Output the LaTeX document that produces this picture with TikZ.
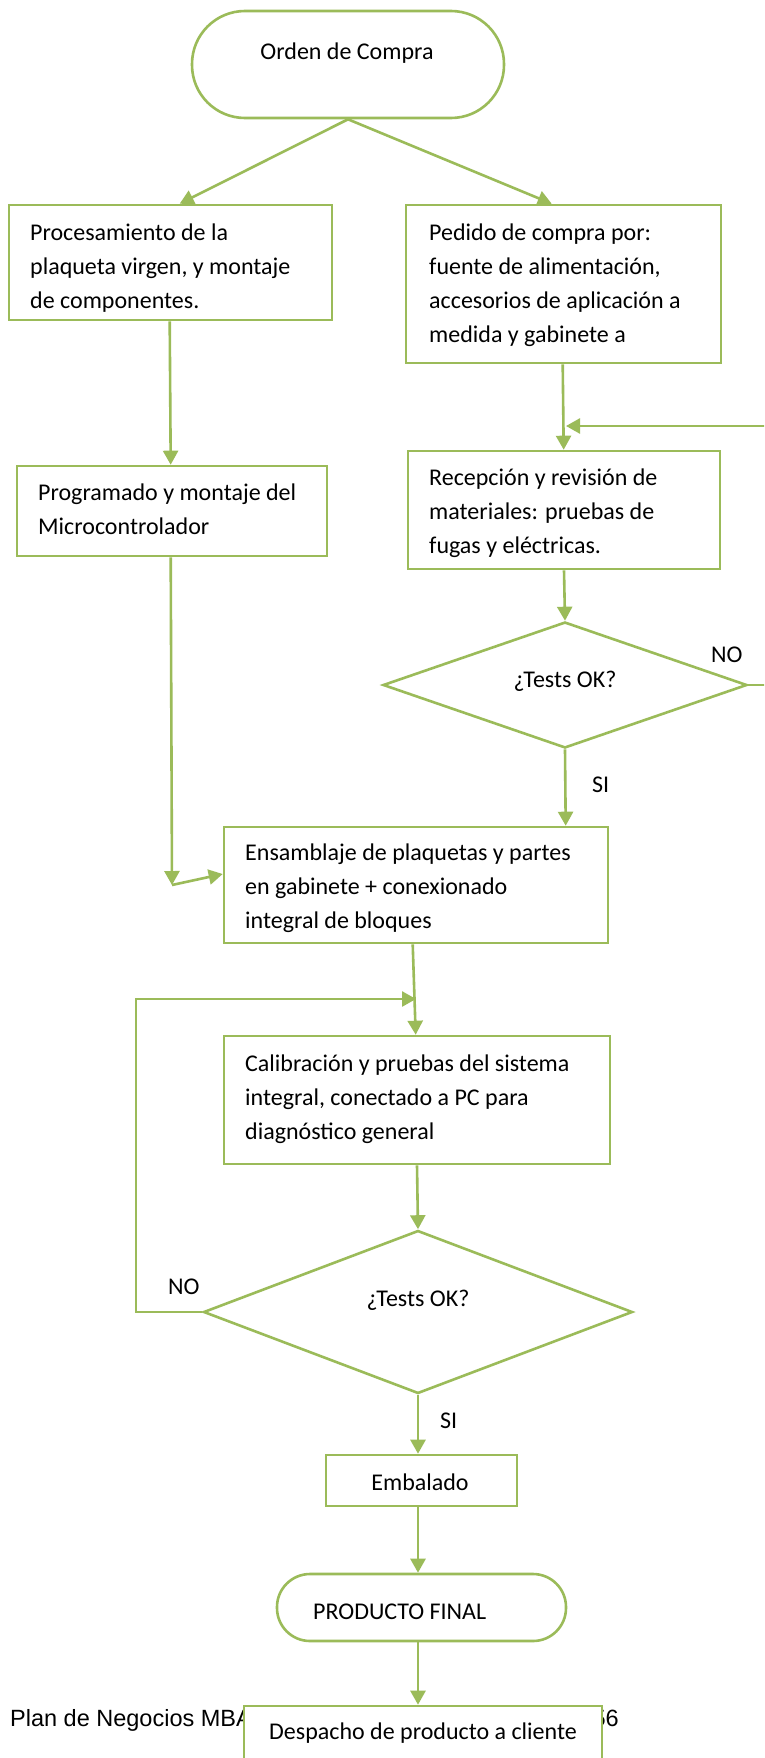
\documentclass[tikz,border=0pt]{standalone}
\usepackage{fontspec}
\setmainfont{Carlito}
\newfontfamily\footfont{Liberation Sans}
\usetikzlibrary{arrows.meta,shapes.geometric,calc}
\definecolor{lgreen}{RGB}{155,187,89}
\begin{document}
\begin{tikzpicture}[x=1pt,y=-1pt,
  box/.style={draw=lgreen, line width=2.6pt, fill=white, rectangle, inner sep=0pt},
  term/.style={box, rounded corners=#1},
  dia/.style={draw=lgreen, line width=2.6pt, fill=white, diamond, inner sep=0pt},
  conn/.style={draw=lgreen, line width=2.6pt, -{Triangle[length=14pt,width=15pt]}},
  txt/.style={inner sep=0pt, align=left, anchor=north west, font=\fontsize{24}{34}\selectfont},
  lbl/.style={inner sep=0pt, anchor=base, font=\fontsize{24}{34}\selectfont},
  foot/.style={inner sep=0pt, font=\footfont\fontsize{23.5}{28}\selectfont}
]
\clip (0,0) rectangle (764,1758);
\fill[white] (0,0) rectangle (764,1758);

% nodes
\node[term=53pt, minimum width=312pt, minimum height=107pt] (t1) at (348,64.5) {};
\node[box, minimum width=323pt, minimum height=115pt] (b1) at (170.5,262.5) {};
\node[box, minimum width=315pt, minimum height=158pt] (b2) at (563.5,284) {};
\node[box, minimum width=310pt, minimum height=90pt] (b3) at (172,511) {};
\node[box, minimum width=312pt, minimum height=118pt] (b4) at (564,510) {};
\node[dia, minimum width=364pt, minimum height=126pt] (d1) at (565,685) {};
\node[box, minimum width=384pt, minimum height=116pt] (b5) at (416,885) {};
\node[box, minimum width=386pt, minimum height=128pt] (b6) at (417,1100) {};
\node[dia, minimum width=429pt, minimum height=163pt] (d2) at (418,1312) {};
\node[box, minimum width=191pt, minimum height=51pt] (b7) at (421.5,1480.5) {};
\node[term=33pt, minimum width=289pt, minimum height=67pt] (t2) at (421.5,1607.5) {};

% footer (partly hidden by the last box)
\node[foot, anchor=base west] (f1) at (10,1726) {Plan de Negocios MBA};
\node[foot, anchor=base east] (f2) at (619,1726) {56};
\node[box, minimum width=358pt, minimum height=84pt] (b8) at (423,1748) {};

% texts
\node[lbl] (t1t) at (347,60) {Orden de Compra};
\node[txt] (b1t) at (30,216.2) {\strut Procesamiento de la\\plaqueta virgen, y montaje\\de componentes.};
\node[txt] (b2t) at (429,216.2) {\strut Pedido de compra por:\\fuente de alimentación,\\accesorios de aplicación a\\medida y gabinete a};
\node[txt] (b3t) at (38,476.2) {\strut Programado y montaje del\\Microcontrolador};
\node[txt] (b4t) at (429,461.2) {\strut Recepción y revisión de\\materiales: pruebas de\\fugas y eléctricas.};
\node[lbl] (d1t) at (565,687) {¿Tests OK?};
\node[lbl, anchor=base west] (no1) at (711,662) {NO};
\node[lbl, anchor=base west] (si1) at (592,792) {SI};
\node[txt] (b5t) at (245,836.2) {\strut Ensamblaje de plaquetas y partes\\en gabinete + conexionado\\integral de bloques};
\node[txt] (b6t) at (245,1047.2) {\strut Calibración y pruebas del sistema\\integral, conectado a PC para\\diagnóstico general};
\node[lbl] (d2t) at (418,1306) {¿Tests OK?};
\node[lbl, anchor=base west] (no2) at (168,1294) {NO};
\node[lbl, anchor=base west] (si2) at (440,1428) {SI};
\node[lbl] (b7t) at (420,1490) {Embalado};
\node[lbl, anchor=base west] (t2t) at (313,1619) {PRODUCTO FINAL};
\node[lbl] (b8t) at (423,1739) {Despacho de producto a cliente};

% helper coordinates
\coordinate (r1) at (775,685);
\coordinate (r2) at (775,426);
\coordinate (r3) at (566,426);
\coordinate (c1) at (172,885);
\coordinate (l1) at (136,1312);
\coordinate (l2) at (136,999);
\coordinate (l3) at (416,999);

% connectors
\draw[conn] (t1.south) -- ([xshift=172pt]b1.north west);
\draw[conn] (t1.south) -- ([xshift=147pt]b2.north west);
\draw[conn] ([xshift=162pt]b1.south west) -- ([xshift=155pt]b3.north west);
\draw[conn] ([xshift=158pt]b2.south west) -- ([xshift=157pt]b4.north west);
\draw[conn] (b4.south) -- (d1.north);
\draw[conn] (d1.east) -- (r1) -- (r2) -- (r3);
\draw[conn] (d1.south) -- ([xshift=343pt]b5.north west);
\draw[conn] ([xshift=155pt]b3.south west) -- (c1);
\draw[conn] (c1) -- ([yshift=11pt]b5.west);
\draw[conn] ([xshift=190pt]b5.south west) -- ([xshift=193pt]b6.north west);
\draw[conn] (d2.west) -- (l1) -- (l2) -- (l3);
\draw[conn] (b6.south) -- (d2.north);
\draw[conn] (d2.south) -- (d2.south |- b7.north);
\draw[conn] (d2.south |- b7.south) -- (d2.south |- t2.north);
\draw[conn] (d2.south |- t2.south) -- (d2.south |- b8.north);
\end{tikzpicture}
\end{document}
